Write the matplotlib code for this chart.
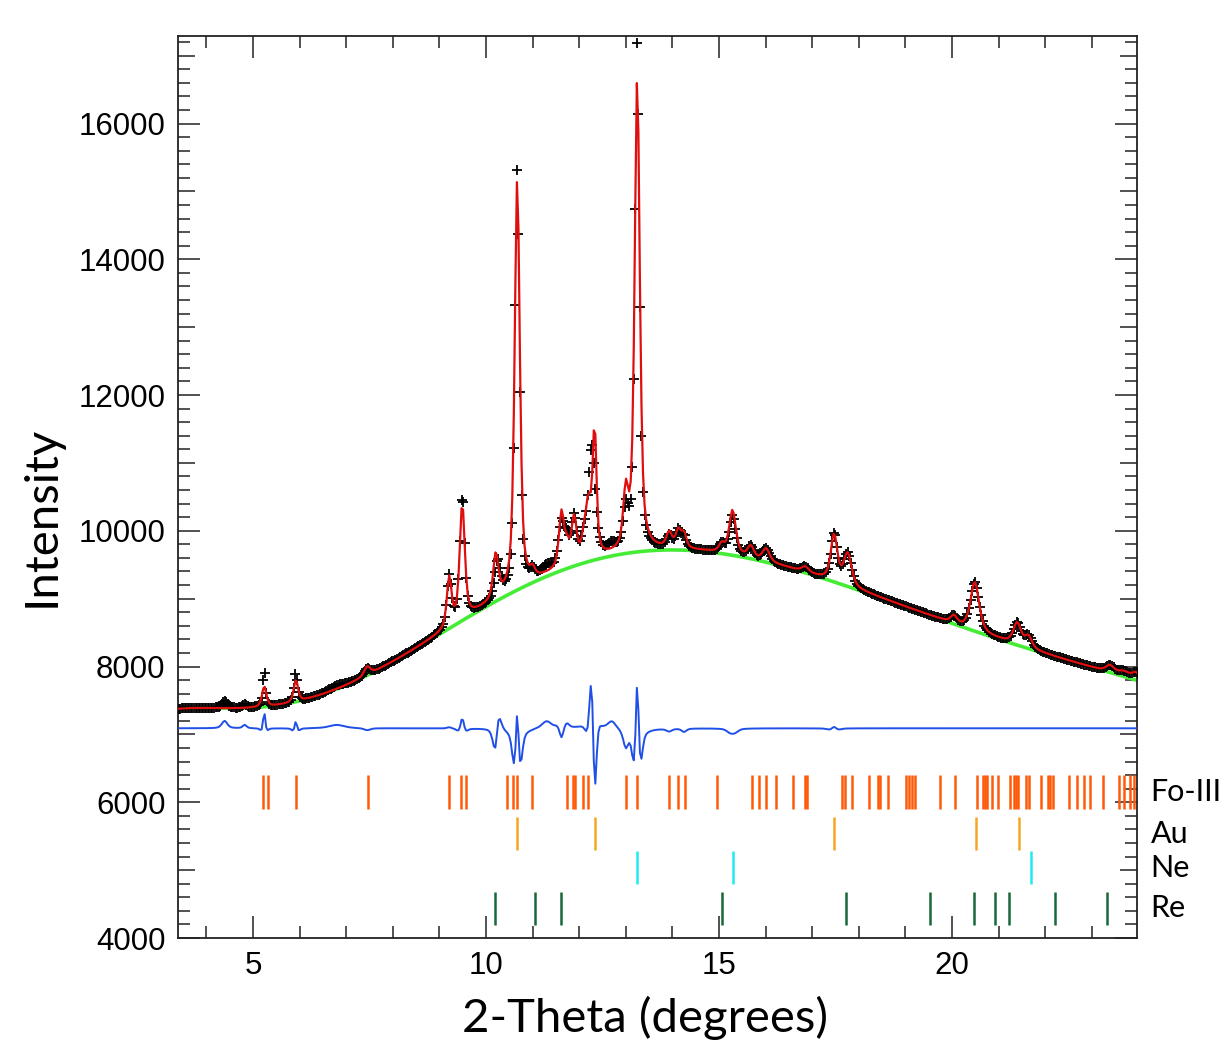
import numpy as np
import matplotlib
matplotlib.use('Agg')
from matplotlib import pyplot as plt
from matplotlib.ticker import MultipleLocator, FuncFormatter
import matplotlib.transforms as mtransforms
from numpy.polynomial import Chebyshev

# background (green), every 0.5 deg
bg_x = [3.4, 4.0, 4.5, 5.0, 5.5, 6.0, 6.5, 7.0, 7.5, 8.0, 8.5, 9.0, 9.5, 10.0,
        10.5, 11.0, 11.5, 12.0, 12.5, 13.0, 13.5, 14.0, 14.5, 15.0, 15.5, 16.0,
        16.5, 17.0, 17.5, 18.0, 18.5, 19.0, 19.5, 20.0, 20.5, 21.0, 21.5, 22.0,
        22.5, 23.0, 23.5, 24.0]
bg_y = [7380, 7380, 7385, 7395, 7430, 7500, 7600, 7730, 7880, 8050, 8250, 8480,
        8700, 8900, 9080, 9230, 9370, 9500, 9590, 9660, 9700, 9720, 9715, 9680,
        9620, 9540, 9450, 9340, 9230, 9120, 9010, 8880, 8760, 8640, 8520, 8400,
        8290, 8190, 8090, 7990, 7890, 7790]

# calculated peaks (red): position, height above background, fwhm
calc_pos = [5.24, 5.92, 7.45, 9.21, 9.49, 10.21, 10.67, 11.00, 11.62, 11.74,
            11.89, 12.10, 12.20, 12.33, 13.00, 13.245, 13.93, 14.13, 14.25,
            15.06, 15.29, 15.68, 16.01, 16.85, 17.47, 17.76, 20.04, 20.49,
            21.40, 21.64, 23.39, 23.69, 23.95]
calc_amp = [300, 320, 130, 720, 1700, 650, 6050, 120, 800, 250,
            650, 250, 750, 1850, 800, 6950, 220, 260, 200,
            120, 650, 170, 190, 80, 680, 470, 110, 720,
            320, 170, 100, 70, 100]
calc_fwhm = [0.11, 0.11, 0.16, 0.12, 0.13, 0.13, 0.13, 0.12, 0.13, 0.12,
             0.13, 0.13, 0.14, 0.10, 0.13, 0.13, 0.14, 0.14, 0.12,
             0.14, 0.17, 0.16, 0.18, 0.18, 0.17, 0.20, 0.16, 0.22,
             0.20, 0.18, 0.20, 0.30, 0.20]

# observed peaks (black crosses)
obs_pos = [4.39, 4.82, 5.24, 5.92, 6.80, 7.45, 9.21, 9.49, 10.25, 10.67,
           11.00, 11.30, 11.62, 11.74, 11.89, 12.10, 12.27, 12.70, 13.00, 13.245,
           13.93, 14.13, 14.25, 15.06, 15.29, 15.68, 16.01, 16.85, 17.47, 17.76,
           20.04, 20.49, 21.40, 21.64, 23.39, 23.69, 23.95]
obs_amp = [110, 50, 540, 420, 50, 100, 740, 1850, 540, 6250,
           120, 110, 650, 300, 650, 250, 1650, 110, 550, 7600,
           180, 260, 150, 120, 570, 170, 190, 80, 700, 470,
           110, 720, 320, 170, 100, 70, 100]
obs_fwhm = [0.14, 0.10, 0.07, 0.08, 0.40, 0.16, 0.12, 0.12, 0.14, 0.11,
            0.12, 0.25, 0.15, 0.12, 0.13, 0.13, 0.18, 0.20, 0.13, 0.11,
            0.14, 0.14, 0.12, 0.14, 0.16, 0.16, 0.18, 0.18, 0.16, 0.20,
            0.16, 0.22, 0.20, 0.18, 0.20, 0.30, 0.20]

diff_offset = 7090

# reflection markers
fo_ticks = [5.21, 5.32, 5.93, 7.47, 9.20, 9.47, 9.56, 10.45, 10.58, 10.67, 10.98,
            11.73, 11.86, 11.90, 12.09, 12.19, 13.00, 13.25, 13.93, 14.12, 14.26,
            14.95, 15.70, 15.86, 16.01, 16.22, 16.59, 16.84, 16.89, 17.65, 17.71,
            17.85, 18.22, 18.41, 18.45, 18.63, 19.01, 19.08, 19.14, 19.20, 19.74,
            20.06, 20.54, 20.66, 20.71, 20.76, 20.85, 20.98, 21.24, 21.32, 21.37,
            21.42, 21.59, 21.66, 21.91, 22.05, 22.10, 22.17, 22.50, 22.68, 22.83,
            22.96, 23.23, 23.59, 23.69, 23.82, 23.91]
au_ticks = [10.67, 12.33, 17.47, 20.52, 21.43]
ne_ticks = [13.25, 15.30, 21.70]
re_ticks = [10.20, 11.06, 11.61, 15.06, 17.73, 19.53, 20.48, 20.93, 21.22, 22.21, 23.33]

phase_names = ['Fo-III', 'Au', 'Ne', 'Re']
phase_rows = [(5900, 6400), (5290, 5780), (4790, 5280), (4190, 4680)]
phase_colors = ['#ff5a0a', '#f5a623', '#22e8f2', '#17693a']


def pseudo_voigt(x, pos, amp, fwhm, eta=0.6):
    d = (x - pos) / fwhm
    g = np.exp(-4 * np.log(2) * d ** 2)
    l = 1.0 / (1 + 4 * d ** 2)
    return amp * (eta * l + (1 - eta) * g)


def peaks(x, pos, amp, fwhm):
    y = np.zeros_like(x)
    for p, a, w in zip(pos, amp, fwhm):
        y += pseudo_voigt(x, p, a, w)
    return y


two_theta = np.arange(3.37, 24.0, 0.033)
background = Chebyshev.fit(bg_x, bg_y, 9)(two_theta)
calc = background + peaks(two_theta, calc_pos, calc_amp, calc_fwhm)
obs = background + peaks(two_theta, obs_pos, obs_amp, obs_fwhm)
diff = obs - calc + diff_offset

fig = plt.figure(figsize=(12.25, 10.57), dpi=100)
ax = fig.add_axes([178 / 1225, 1 - 938 / 1057, (1137 - 178) / 1225, (938 - 36) / 1057])

ax.plot(two_theta, background, color='#45ec35', lw=2.6, zorder=2)
ax.plot(two_theta, obs, ls='none', marker='+', ms=6.5, mew=1.3, color='black', zorder=3)
ax.plot(two_theta, calc, color='#e00f0f', lw=1.6, zorder=4)
ax.plot(two_theta, diff, color='#1f4fe6', lw=1.4, zorder=4)

row_tr = mtransforms.blended_transform_factory(ax.transAxes, ax.transData)
for ticks, (lo, hi), col, name in zip([fo_ticks, au_ticks, ne_ticks, re_ticks],
                                      phase_rows, phase_colors, phase_names):
    ax.vlines(ticks, lo, hi, colors=col, lw=1.8, zorder=3)
    ax.text(1.014, (lo + hi) / 2, name, transform=row_tr,
            ha='left', va='center', fontsize=22, family='Lato', clip_on=False)

ax.set_xlim(3.39, 23.97)
ax.set_ylim(4000, 17290)

ax.xaxis.set_major_locator(MultipleLocator(5))
ax.xaxis.set_minor_locator(MultipleLocator(1))
ax.yaxis.set_major_locator(MultipleLocator(1000))
ax.yaxis.set_minor_locator(MultipleLocator(200))
ax.yaxis.set_major_formatter(FuncFormatter(lambda v, p: '%d' % v if int(v) % 2000 == 0 else ''))

ax.tick_params(which='both', direction='in', top=True, right=True, width=1.1, color='#222222')
ax.tick_params(which='major', length=16)
ax.tick_params(which='minor', length=8.5)
ax.tick_params(axis='both', labelsize=22.5, pad=9)
for lab in ax.get_xticklabels() + ax.get_yticklabels():
    lab.set_family('Liberation Sans')

# odd thousands get a medium tick
locs = ax.yaxis.get_majorticklocs()
for loc, t in zip(locs, ax.yaxis.get_major_ticks(len(locs))):
    if int(loc) % 2000:
        t.tick1line.set_markersize(12)
        t.tick2line.set_markersize(12)

for sp in ax.spines.values():
    sp.set_linewidth(1.3)
    sp.set_color('#222222')

fig.text(42 / 1225, 1 - 516 / 1057, 'Intensity', rotation=90, ha='center', va='center',
         fontsize=34, family='Lato')
fig.text(645 / 1225, 1 - 1018 / 1057, '2-Theta (degrees)', ha='center', va='center',
         fontsize=34, family='Lato')

fig.savefig('out.png', dpi=100)
